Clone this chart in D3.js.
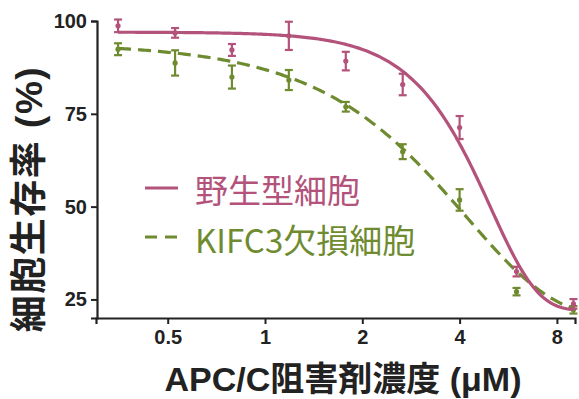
<!DOCTYPE html>
<html><head><meta charset="utf-8">
<script src="https://cdn.jsdelivr.net/npm/d3@7"></script>
<style>html,body{margin:0;padding:0;background:#fff;}</style>
</head><body>
<svg id="chart" width="579" height="399"></svg>
<script>
// ---- data ----
const concentrations = [0.351, 0.527, 0.79, 1.185, 1.778, 2.667, 4, 6, 9];
const wildTypeMean = [98.7, 96.8, 92.2, 96.0, 89.2, 82.9, 71.3, 32.5, 23.8];
const wildTypeErr  = [1.7, 1.3, 1.6, 3.8, 2.5, 2.9, 3.1, 1.3, 1.3];
const knockoutMean = [92.4, 88.7, 84.9, 84.1, 76.9, 64.8, 51.8, 27.1, 22.2];
const knockoutErr  = [1.6, 3.4, 3.1, 2.7, 1.3, 2.0, 2.9, 1.0, 1.0];
const xTicks = [0.5, 1, 2, 4, 8];
const yTicks = [25, 50, 75, 100];
const seriesNames = ["野生型細胞", "KIFC3欠損細胞"];
// fitted curve parameters (top, bottom, scale, shape)
const wildTypeFit = [97, 22, 5.0, 3.0];
const knockoutFit = [94, 20, 4.2, 1.6];

const pink = "#B3527A", green = "#6E8B30", ink = "#222";
const svg = d3.select("#chart");
const x = d3.scaleLog().base(2).domain([0.3, 9.1]).range([96, 575]);
const y = d3.scaleLinear().domain([20, 100]).range([318, 21]);

const latin = "'Liberation Sans', Arial, 'Noto Sans CJK JP', sans-serif";
const cjk = "'Noto Sans CJK JP', 'Noto Sans', sans-serif";

// axes
const xAxis = svg.append("g").attr("transform", "translate(0,318)")
  .call(d3.axisBottom(x).tickValues(xTicks).tickFormat(d3.format("")).tickSizeOuter(0).tickSize(6).tickPadding(6));
const yAxis = svg.append("g").attr("transform", "translate(97,0)")
  .call(d3.axisLeft(y).tickValues(yTicks).tickSizeOuter(0).tickSize(6).tickPadding(4));
[xAxis, yAxis].forEach(g => {
  g.select(".domain").attr("stroke", ink).attr("stroke-width", 2.2);
  g.selectAll(".tick line").attr("stroke", ink).attr("stroke-width", 2);
  g.selectAll(".tick text").attr("fill", ink).style("font-family", latin)
    .style("font-size", "20px").style("font-weight", "bold");
});

// fitted curves
function fitCurve(p) {
  const [top, bottom, s, h] = p;
  const n = 200, lo = Math.log(concentrations[0]), hi = Math.log(concentrations[concentrations.length - 1]);
  return d3.range(n + 1).map(i => {
    const c = Math.exp(lo + (hi - lo) * i / n);
    return [c, bottom + (top - bottom) * Math.exp(-Math.pow(c / s, h))];
  });
}
const line = d3.line().x(d => x(d[0])).y(d => y(d[1]));

function drawSeries(means, errs, fit, color, dash) {
  const g = svg.append("g");
  g.append("path").datum(fitCurve(fit)).attr("d", line).attr("fill", "none")
    .attr("stroke", color).attr("stroke-width", 3.2)
    .attr("stroke-dasharray", dash || null);
  const pts = concentrations.map((c, i) => ({c, m: means[i], e: errs[i]}));
  const eb = g.selectAll(".eb").data(pts).enter().append("g");
  eb.append("line").attr("x1", d => x(d.c)).attr("x2", d => x(d.c))
    .attr("y1", d => y(d.m + d.e)).attr("y2", d => y(d.m - d.e))
    .attr("stroke", color).attr("stroke-width", 2.2);
  [1, -1].forEach(sgn => {
    eb.append("line").attr("x1", d => x(d.c) - 4).attr("x2", d => x(d.c) + 4)
      .attr("y1", d => y(d.m + sgn * d.e)).attr("y2", d => y(d.m + sgn * d.e))
      .attr("stroke", color).attr("stroke-width", 2.2);
  });
  eb.append("circle").attr("cx", d => x(d.c)).attr("cy", d => y(d.m)).attr("r", 2.6).attr("fill", color);
}
drawSeries(knockoutMean, knockoutErr, knockoutFit, green, "13,7");
drawSeries(wildTypeMean, wildTypeErr, wildTypeFit, pink, null);

// legend
const leg = svg.append("g");
leg.append("line").attr("x1", 145).attr("x2", 178).attr("y1", 188).attr("y2", 188)
  .attr("stroke", pink).attr("stroke-width", 3.2);
leg.append("line").attr("x1", 145).attr("x2", 178).attr("y1", 237).attr("y2", 237)
  .attr("stroke", green).attr("stroke-width", 3.2).attr("stroke-dasharray", "12,8");
leg.append("text").attr("x", 195).attr("y", 189).attr("dominant-baseline", "central")
  .attr("fill", pink).style("font-family", cjk).style("font-size", "33px").text(seriesNames[0]);
leg.append("text").attr("x", 195).attr("y", 239).attr("dominant-baseline", "central")
  .attr("fill", green).style("font-family", cjk).style("font-size", "33px").text(seriesNames[1]);

// axis titles
svg.append("text").attr("x", 343).attr("y", 391).attr("text-anchor", "middle")
  .attr("fill", ink).style("font-family", latin).style("font-size", "34px").style("font-weight", "bold")
  .text("APC/C阻害剤濃度 (μM)");
svg.append("text").attr("transform", "translate(29,199) rotate(-90)")
  .attr("text-anchor", "middle").attr("dominant-baseline", "central")
  .attr("fill", ink).style("font-family", latin).style("font-size", "37px").style("font-weight", "bold")
  .style("letter-spacing", "1.5px")
  .text("細胞生存率 (%)");
</script>
</body></html>
